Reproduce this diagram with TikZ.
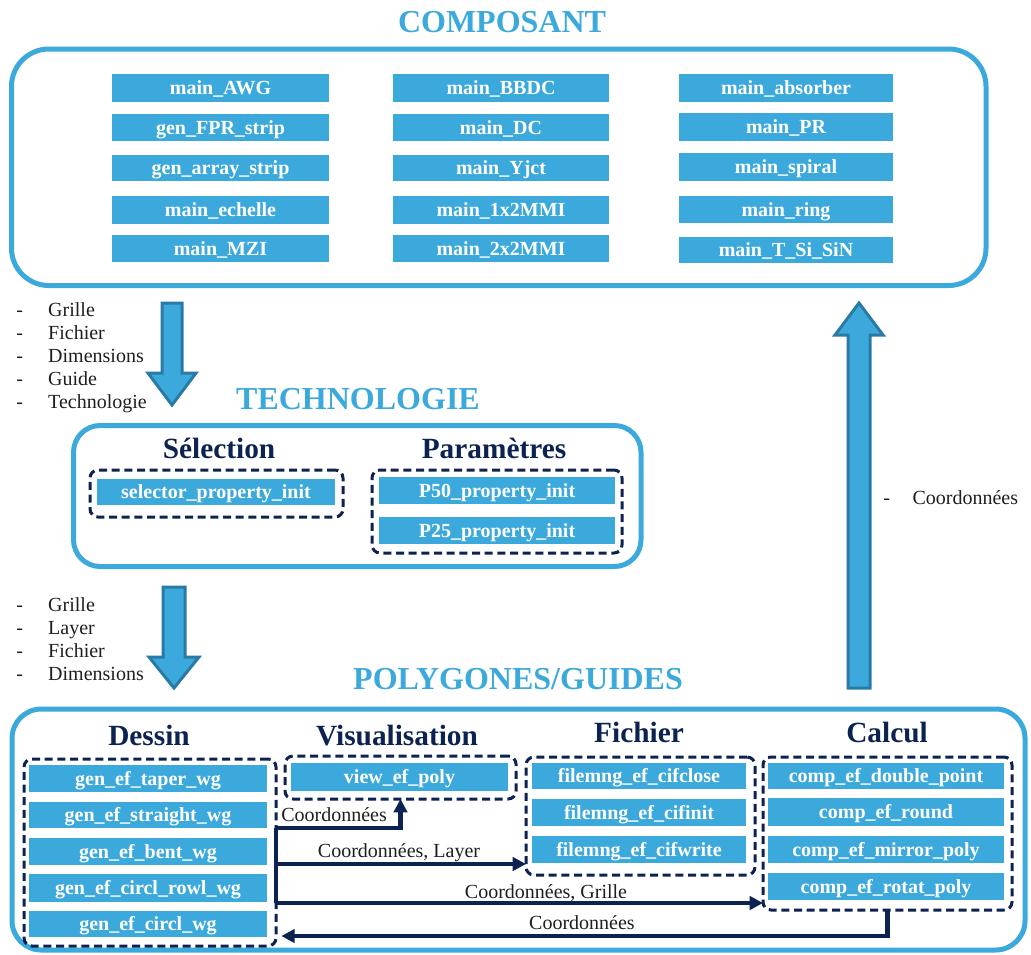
\documentclass[tikz,border=0pt]{standalone}
\usepackage{fontspec}
\setmainfont{Liberation Serif}
\usetikzlibrary{arrows.meta,calc}
\definecolor{lb}{RGB}{60,169,220}
\definecolor{ad}{RGB}{42,122,166}
\definecolor{navy}{RGB}{12,34,80}
\definecolor{txt}{RGB}{30,30,30}
\newcommand\bx[7]{\node[#1, minimum width={(#5-#3)*0.75pt}, minimum height={(#6-#4)*0.75pt}] (#2) at ({(#3+#5)/2},{(#4+#6)/2}) {#7};}
\begin{document}
\begin{tikzpicture}[x=0.75pt,y=-0.75pt,
 fbox/.style={fill=lb, draw=none, text=white, font=\fontsize{15}{18}\selectfont\bfseries, inner sep=0pt, outer sep=0pt, text height=10pt, text depth=0pt},
 bigbox/.style={draw=lb, line width=3.75pt, rounded corners=28pt, inner sep=0pt, outer sep=0pt},
 grp/.style={draw=navy, line width=2.25pt, dash pattern=on 6pt off 3.5pt, rounded corners=6pt, inner sep=0pt, outer sep=0pt},
 title/.style={text=lb, font=\fontsize{24}{28}\selectfont\bfseries, inner sep=0pt},
 head/.style={text=navy, font=\fontsize{22}{26}\selectfont\bfseries, inner sep=0pt},
 lbl/.style={text=txt, font=\fontsize{15}{18}\selectfont, inner sep=0pt},
 conn/.style={draw=navy, line width=3.3pt},
 tip/.style={-{Triangle[length=10pt,width=10pt]}},
 barrow/.style={fill=lb, draw=ad, line width=2.25pt, line join=miter}
]
\useasboundingbox (0,0) rectangle (1031,954);

% containers
\bx{bigbox}{compB}{11.5}{49}{986}{285.5}{}
\bx{bigbox, rounded corners=20pt}{techB}{73.5}{425.5}{641}{566.5}{}
\bx{bigbox, rounded corners=22pt}{polyB}{12}{709}{1025}{950}{}

% titles
\node[title] (tComp) at (502,22) {COMPOSANT};
\node[title] (tTech) at (358,399) {TECHNOLOGIE};
\node[title] (tPoly) at (518,679) {POLYGONES/GUIDES};

% composant boxes
\bx{fbox}{c11}{112}{74}{329}{102}{main\_AWG}
\bx{fbox}{c12}{112}{114}{329}{141}{gen\_FPR\_strip}
\bx{fbox}{c13}{112}{155}{329}{181}{gen\_array\_strip}
\bx{fbox}{c14}{112}{196}{329}{224}{main\_echelle}
\bx{fbox}{c15}{112}{235}{329}{262}{main\_MZI}
\bx{fbox}{c21}{393}{74}{609}{102}{main\_BBDC}
\bx{fbox}{c22}{393}{114}{609}{141}{main\_DC}
\bx{fbox}{c23}{393}{155}{609}{181}{main\_Yjct}
\bx{fbox}{c24}{393}{196}{609}{224}{main\_1x2MMI}
\bx{fbox}{c25}{393}{235}{609}{262}{main\_2x2MMI}
\bx{fbox}{c31}{679}{74}{893}{102}{main\_absorber}
\bx{fbox}{c32}{679}{113}{893}{141}{main\_PR}
\bx{fbox}{c33}{679}{153}{893}{181}{main\_spiral}
\bx{fbox}{c34}{679}{196}{893}{223}{main\_ring}
\bx{fbox}{c35}{679}{237}{893}{263}{main\_T\_Si\_SiN}

% bullet list 1
\node[lbl, anchor=base west] (l11) at (16,316) {\makebox[24pt][l]{-}Grille};
\node[lbl, anchor=base west] (l12) at (16,339) {\makebox[24pt][l]{-}Fichier};
\node[lbl, anchor=base west] (l13) at (16,362) {\makebox[24pt][l]{-}Dimensions};
\node[lbl, anchor=base west] (l14) at (16,385) {\makebox[24pt][l]{-}Guide};
\node[lbl, anchor=base west] (l15) at (16,408) {\makebox[24pt][l]{-}Technologie};

% bullet list 2
\node[lbl, anchor=base west] (l21) at (16,611) {\makebox[24pt][l]{-}Grille};
\node[lbl, anchor=base west] (l22) at (16,634) {\makebox[24pt][l]{-}Layer};
\node[lbl, anchor=base west] (l23) at (16,657) {\makebox[24pt][l]{-}Fichier};
\node[lbl, anchor=base west] (l24) at (16,680) {\makebox[24pt][l]{-}Dimensions};

% right label
\node[lbl, anchor=base west] (lr) at (883,504) {\makebox[22pt][l]{-}Coordonnées};

% block arrows
\draw[barrow] (162,303)--(182,303)--(182,373)--(196,373)--(172,405)--(148,373)--(162,373)--cycle;
\draw[barrow] (163,587)--(185,587)--(185,657)--(199,657)--(174,688)--(149,657)--(163,657)--cycle;
\draw[barrow] (848,688)--(870,688)--(870,335)--(883,335)--(859,303)--(835,335)--(848,335)--cycle;

% technologie
\node[head] (hSel) at (219,448) {Sélection};
\node[head] (hPar) at (494,448) {Paramètres};
\bx{grp}{selG}{90}{470}{343}{517}{}
\bx{grp}{parG}{372}{470}{622}{553}{}
\bx{fbox}{sel}{97}{479}{335}{505}{selector\_property\_init}
\bx{fbox}{p50}{379}{477}{615}{504}{P50\_property\_init}
\bx{fbox}{p25}{379}{517}{615}{544}{P25\_property\_init}

% polygones headers
\node[head] (hDes) at (149,735) {Dessin};
\node[head] (hVis) at (397,736) {Visualisation};
\node[head] (hFic) at (639,732) {Fichier};
\node[head] (hCal) at (887,732) {Calcul};

% groups
\bx{grp}{dessinG}{24}{759}{276}{946}{}
\bx{grp}{viewG}{285}{756}{516}{799}{}
\bx{grp}{fichG}{526}{757}{755}{875}{}
\bx{grp}{calcG}{763}{757}{1012}{910}{}

% dessin
\bx{fbox}{d1}{29}{765}{267}{792}{gen\_ef\_taper\_wg}
\bx{fbox}{d2}{29}{802}{267}{828}{gen\_ef\_straight\_wg}
\bx{fbox}{d3}{29}{838}{267}{865}{gen\_ef\_bent\_wg}
\bx{fbox}{d4}{29}{874}{267}{902}{gen\_ef\_circl\_rowl\_wg}
\bx{fbox}{d5}{29}{911}{267}{937}{gen\_ef\_circl\_wg}
% view
\bx{fbox}{v1}{291}{763}{508}{791}{view\_ef\_poly}
% fichier
\bx{fbox}{f1}{532}{763}{746}{789}{filemng\_ef\_cifclose}
\bx{fbox}{f2}{532}{799}{746}{826}{filemng\_ef\_cifinit}
\bx{fbox}{f3}{532}{836}{746}{863}{filemng\_ef\_cifwrite}
% calcul
\bx{fbox}{k1}{768}{763}{1004}{789}{comp\_ef\_double\_point}
\bx{fbox}{k2}{768}{798}{1004}{826}{comp\_ef\_round}
\bx{fbox}{k3}{768}{836}{1004}{863}{comp\_ef\_mirror\_poly}
\bx{fbox}{k4}{768}{873}{1004}{900}{comp\_ef\_rotat\_poly}

% connectors
\coordinate (b1) at (dessinG.east |- 0,828);
\coordinate (b2) at (dessinG.east |- 0,864);
\coordinate (b3) at (dessinG.east |- 0,903);
\coordinate (r1) at (calcG.south |- 0,936);
\coordinate (r2) at (dessinG.east |- 0,936);
\draw[conn] (b1) -- (b3);
\draw[conn,tip] (b1) -| (viewG.south);
\draw[conn,tip] (b2) -- (fichG.west |- b2);
\draw[conn,tip] (b3) -- (calcG.west |- b3);
\draw[conn,tip] (calcG.south) -- (r1) -- ([xshift=4pt]r2);

\node[lbl, anchor=base west] (cl1) at (281,821) {Coordonnées};
\node[lbl, anchor=base] (cl2) at (399,857) {Coordonnées, Layer};
\node[lbl, anchor=base] (cl3) at (546,898) {Coordonnées, Grille};
\node[lbl, anchor=base] (cl4) at (582,929) {Coordonnées};
\end{tikzpicture}
\end{document}
